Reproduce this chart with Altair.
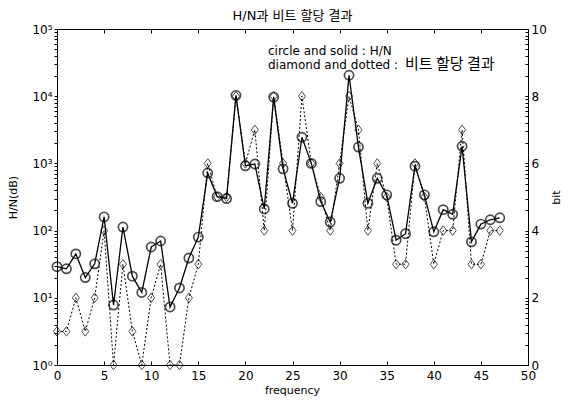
import math
import altair as alt
import pandas as pd

# ---- data ----
freq = list(range(48))
hn = [29, 27, 45, 20, 32, 160, 7.8, 113, 21, 12,
      57, 70, 7.3, 14, 39, 80, 720, 320, 300, 10300,
      920, 980, 210, 9700, 830, 255, 2450, 1000, 270, 134,
      600, 20500, 1750, 255, 600, 340, 72, 90, 910, 340,
      96, 205, 175, 1800, 68, 125, 145, 155]
bits = [1, 1, 2, 1, 2, 4, 0, 3, 1, 0,
        2, 3, 0, 0, 2, 3, 6, 5, 5, 8,
        6, 7, 4, 8, 6, 4, 8, 6, 5, 4,
        6, 8, 7, 4, 6, 5, 3, 3, 6, 5,
        3, 4, 4, 7, 3, 3, 4, 4]
x_ticks = list(range(0, 51, 5))
bit_ticks = list(range(0, 11, 2))
log_ticks = [k * 10 ** n for n in range(5) for k in range(1, 10)] + [100000]
legend_en = ["circle and solid : H/N", "diamond and dotted :"]
legend_ko = ["비트 할당 결과"]
title_text = "H/N과 비트 할당 결과"

df = pd.DataFrame({"freq": freq, "hn": hn, "bit": bits})

FONT = "DejaVu Sans, Noto Sans CJK KR"
KFONT = "Noto Sans CJK KR"
W, H = 471, 336

xs = alt.Scale(domain=[0, 50], nice=False, zero=False)
ys_log = alt.Scale(type="log", domain=[1, 100000], nice=False)
ys_bit = alt.Scale(domain=[0, 10], nice=False, zero=False)

label_expr = ("abs(log(datum.value)/LN10 - round(log(datum.value)/LN10)) < 0.001 ? "
              "'10' + ['⁰','¹','²','³','⁴','⁵'][round(log(datum.value)/LN10)] : ''")

base = alt.Chart(df)

line_hn = base.mark_line(color="black", strokeWidth=1.3).encode(
    x=alt.X("freq:Q", scale=xs, axis=alt.Axis(
        orient="bottom", values=x_ticks, tickSize=0, labelPadding=5, domain=False,
        grid=False, labelFlush=False, labelFont=FONT, labelFontSize=12, labelColor="black",
        title="frequency", titleFont=FONT, titleFontSize=11, titleFontWeight="normal",
        titleColor="black", titleX=235, titleY=25, titleBaseline="middle", titleAlign="center")),
    y=alt.Y("hn:Q", scale=ys_log, axis=alt.Axis(
        orient="left", values=log_ticks, labelExpr=label_expr, tickSize=3, tickColor="black",
        labelPadding=2, domain=False, grid=False, labelOverlap=False, labelFlush=False,
        labelFont=FONT, labelFontSize=12, labelColor="black",
        title="H/N(dB)", titleFont=FONT, titleFontSize=11, titleFontWeight="normal",
        titleColor="black", titleAngle=270, titleX=-44, titleY=168,
        titleAlign="center", titleBaseline="middle")),
)

pts_hn = base.mark_point(shape="circle", size=85, filled=False, color="black",
                         strokeWidth=1.7).encode(
    x=alt.X("freq:Q", scale=xs, axis=alt.Axis(
        orient="bottom", offset=-4, values=x_ticks, tickSize=4, tickColor="black",
        labels=False, domain=False, grid=False, title=None)),
    y=alt.Y("hn:Q", scale=ys_log, axis=alt.Axis(
        orient="right", offset=-3, values=log_ticks, tickSize=3, tickColor="black",
        labels=False, domain=False, grid=False, title=None)),
)

line_bit = base.mark_line(color="black", strokeWidth=1, strokeDash=[2, 2]).encode(
    x=alt.X("freq:Q", scale=xs, axis=alt.Axis(
        orient="top", offset=-4, values=x_ticks, tickSize=4, tickColor="black",
        labels=False, domain=False, grid=False, title=None)),
    y=alt.Y("bit:Q", scale=ys_bit, axis=alt.Axis(
        orient="right", values=bit_ticks, tickSize=0, labelPadding=3, domain=False,
        grid=False, labelFlush=False, labelFont=FONT, labelFontSize=12, labelColor="black",
        title="bit", titleFont=FONT, titleFontSize=11, titleFontWeight="normal",
        titleColor="black", titleAngle=270, titleX=28, titleY=168,
        titleAlign="center", titleBaseline="middle")),
)

pts_bit = base.mark_point(shape="M0,-1L0.75,0L0,1L-0.75,0Z", size=90, filled=False,
                          color="black", strokeWidth=1).encode(
    x=alt.X("freq:Q", scale=xs, axis=None),
    y=alt.Y("bit:Q", scale=ys_bit, axis=None),
)

leg_df = pd.DataFrame({"t": legend_en, "row": [0, 1]})
txt = alt.Chart(leg_df).mark_text(align="left", baseline="middle", font=FONT,
                                  fontSize=12, color="black").encode(
    text="t:N",
    x=alt.value(211),
    y=alt.Y("row:Q", scale=alt.Scale(domain=[0, 1], range=[22, 36]), axis=None),
)
ko_df = pd.DataFrame({"t": legend_ko})
txt_ko = alt.Chart(ko_df).mark_text(align="left", baseline="middle", font=KFONT,
                                    fontSize=15, color="black").encode(
    text="t:N",
    x=alt.value(348),
    y=alt.value(35),
)

chart = alt.layer(line_hn, pts_hn, line_bit, pts_bit, txt, txt_ko).resolve_scale(
    x="independent", y="independent"
).properties(
    width=W, height=H,
    autosize=alt.AutoSizeParams(type="none"),
    padding={"left": 49, "top": 21, "right": 35, "bottom": 32},
    title=alt.TitleParams(title_text, font=FONT, fontSize=13, fontWeight="normal",
                          color="black", anchor="middle", offset=0),
).configure_view(stroke="black", strokeWidth=1)

chart.save("out.html", embed_options={"renderer": "svg", "actions": False})
